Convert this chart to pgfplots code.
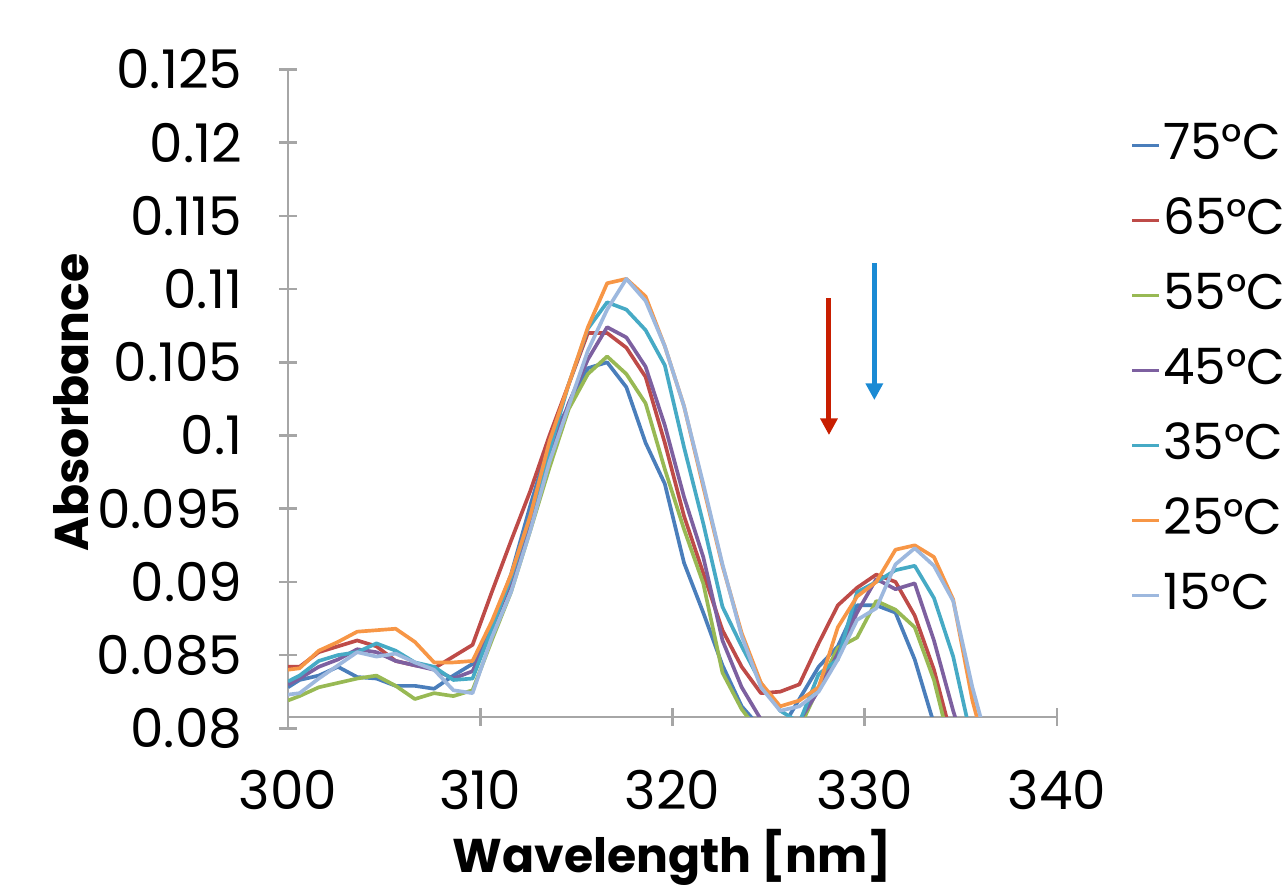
\documentclass[border=0pt]{standalone}
\usepackage{fontspec}
\setmainfont{Poppins}
\usepackage{pgfplots}
\usepackage{pgfplotstable}
\pgfplotsset{compat=1.18}
\usetikzlibrary{arrows.meta}

\definecolor{c75}{HTML}{4A7EBB}
\definecolor{c65}{HTML}{BE4B48}
\definecolor{c55}{HTML}{98B954}
\definecolor{c45}{HTML}{7D60A0}
\definecolor{c35}{HTML}{46AAC5}
\definecolor{c25}{HTML}{F79646}
\definecolor{c15}{HTML}{9DB8DE}
\definecolor{axgray}{HTML}{A6A6A6}
\definecolor{arrred}{HTML}{C81E00}
\definecolor{arrblue}{HTML}{1A8AD4}

% absorbance spectra, one column per temperature
\pgfplotstableread{
x     s75    s65    s55    s45    s35    s25    s15
300   0.0828 0.0842 0.0819 0.0830 0.0832 0.0840 0.0823
300.6 0.0833 0.0842 0.0822 0.0834 0.0836 0.0841 0.0824
301.6 0.0836 0.0852 0.0828 0.0842 0.0846 0.0853 0.0834
302.6 0.0842 0.0856 0.0831 0.0847 0.0850 0.0859 0.0843
303.6 0.0835 0.0860 0.0834 0.0854 0.0852 0.0866 0.0852
304.6 0.0834 0.0856 0.0836 0.0852 0.0858 0.0867 0.0849
305.6 0.0829 0.0846 0.0829 0.0846 0.0853 0.0868 0.0851
306.6 0.0829 0.0843 0.0820 0.0843 0.0845 0.0859 0.0845
307.6 0.0827 0.0841 0.0824 0.0840 0.0842 0.0845 0.0840
308.6 0.0836 0.0849 0.0822 0.0834 0.0833 0.0845 0.0826
309.6 0.0844 0.0857 0.0826 0.0839 0.0834 0.0846 0.0824
310.6 0.0870 0.0893 0.0860 0.0868 0.0868 0.0873 0.0862
311.6 0.0905 0.0928 0.0893 0.0900 0.0903 0.0905 0.0893
312.6 0.0952 0.0962 0.0935 0.0940 0.0945 0.0945 0.0935
313.6 0.0996 0.1000 0.0978 0.0985 0.0990 0.0996 0.0982
314.6 0.1020 0.1035 0.1018 0.1022 0.1035 0.1035 0.1020
315.6 0.1046 0.1070 0.1042 0.1052 0.1073 0.1074 0.1058
316.6 0.1050 0.1070 0.1054 0.1074 0.1091 0.1104 0.1086
317.6 0.1033 0.1060 0.1042 0.1067 0.1086 0.1107 0.1107
318.6 0.0995 0.1040 0.1022 0.1047 0.1072 0.1095 0.1092
319.6 0.0967 0.0995 0.0977 0.1007 0.1048 0.1061 0.1061
320.6 0.0913 0.0945 0.0936 0.0958 0.0992 0.1020 0.1020
321.6 0.0879 0.0906 0.0899 0.0917 0.0940 0.0965 0.0967
322.6 0.0843 0.0867 0.0838 0.0860 0.0883 0.0911 0.0912
323.6 0.0815 0.0842 0.0813 0.0828 0.0856 0.0865 0.0863
324.6 0.0800 0.0824 0.0796 0.0806 0.0831 0.0831 0.0828
325.6 0.0798 0.0825 0.0790 0.0797 0.0812 0.0815 0.0812
326.6 0.0820 0.0830 0.0800 0.0805 0.0804 0.0819 0.0815
327.6 0.0842 0.0858 0.0828 0.0826 0.0837 0.0828 0.0825
328.6 0.0856 0.0884 0.0855 0.0851 0.0847 0.0869 0.0847
329.6 0.0884 0.0896 0.0862 0.0879 0.0893 0.0890 0.0874
330.6 0.0884 0.0905 0.0887 0.0902 0.0900 0.0900 0.0882
331.6 0.0879 0.0900 0.0881 0.0895 0.0908 0.0922 0.0912
332.6 0.0847 0.0877 0.0869 0.0899 0.0911 0.0925 0.0923
333.6 0.0803 0.0840 0.0833 0.0860 0.0889 0.0917 0.0911
334.6 0.0760 0.0790 0.0780 0.0812 0.0849 0.0888 0.0887
335.6 0.0720 0.0750 0.0750 0.0770 0.0790 0.0819 0.0828
336.6 0.0700 0.0720 0.0730 0.0740 0.0750 0.0770 0.0780
}\spectra

\begin{document}
\begin{tikzpicture}
\pgfplotsset{
  every axis/.append style={
    scale only axis, width=230.7pt,
    xmin=300, xmax=340,
    tick align=outside, major tick length=5.4pt,
    tick style={draw=axgray, line width=0.8pt},
    tick label style={font=\fontsize{16}{19}\selectfont},
    label style={font=\fontsize{14.2}{17}\selectfont\bfseries},
    /pgf/number format/assume math mode=true,
  },
  plainaxes/.style={
    axis line style={-, draw=axgray, line width=0.8pt},
    every outer x axis line/.append style={-},
    every outer y axis line/.append style={-},
    every inner x axis line/.append style={-},
    every inner y axis line/.append style={-},
  },
}
% vertical axis: runs down to 0.08, a little below the horizontal axis
\begin{axis}[
  at={(86.4pt,49.1pt)}, anchor=south west, height=197.64pt,
  ymin=0.08, ymax=0.125,
  axis y line=left, axis x line=none, plainaxes,
  ytick={0.08,0.085,0.09,0.095,0.1,0.105,0.11,0.115,0.12,0.125},
  scaled y ticks=false,
  yticklabel style={/pgf/number format/fixed, /pgf/number format/precision=3,
    anchor=east, inner sep=0pt, xshift=-10.8pt},
  ylabel={Absorbance},
  ylabel style={at={(axis description cs:-0.26,0.4945)}, anchor=base},
]
\end{axis}
% data axis
\begin{axis}[
  at={(86.4pt,52.5pt)}, anchor=south west, height=194.25pt,
  ymin=0.080772, ymax=0.125,
  axis x line=bottom, axis y line=none, plainaxes,
  xtick={300,310,320,330,340},
  xticklabel style={anchor=north, inner sep=0pt, yshift=-13.2pt},
  xlabel={Wavelength [nm]},
  xlabel style={at={(axis description cs:0.5,-0.2394)}, anchor=base},
  every axis plot/.append style={line width=1.1pt, line join=round},
  legend cell align=left,
  legend image code/.code={\draw[#1] (0pt,0.6pt) -- (8.1pt,0.6pt);},
  legend style={at={(axis description cs:1.0949,0.9204)}, anchor=north west,
    draw=none, fill=none, inner sep=0pt, row sep=7.1pt, column sep=0pt,
    font=\fontsize{15}{18}\selectfont,
    nodes={inner sep=0pt, text height=11.4pt, text depth=4pt},
    /tikz/every odd column/.append style={column sep=0.6pt},
    /tikz/every even column/.append style={column sep=0pt}},
]
\addplot[c75] table[x=x, y=s75] {\spectra};
\addplot[c65] table[x=x, y=s65] {\spectra};
\addplot[c55] table[x=x, y=s55] {\spectra};
\addplot[c45] table[x=x, y=s45] {\spectra};
\addplot[c35] table[x=x, y=s35] {\spectra};
\addplot[c25] table[x=x, y=s25] {\spectra};
\addplot[c15] table[x=x, y=s15] {\spectra};
\legend{75°C, 65°C, 55°C, 45°C, 35°C, 25°C, 15°C}
\draw[arrred, line width=1.5pt, -{Triangle[width=5pt,length=5pt]}]
  (axis cs:328.14,0.10939) -- (axis cs:328.14,0.10003);
\draw[arrblue, line width=1.5pt, -{Triangle[width=5pt,length=5pt]}]
  (axis cs:330.50,0.11176) -- (axis cs:330.50,0.10242);
\end{axis}
\pgfresetboundingbox
\path[use as bounding box] (0,0) rectangle (385.5pt,267.6pt);
\end{tikzpicture}
\end{document}
